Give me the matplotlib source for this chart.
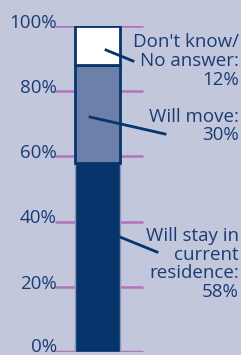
import matplotlib.pyplot as plt

# survey shares, stacked bottom to top
categories = ["Will stay in\ncurrent\nresidence:", "Will move:", "Don't know/\nNo answer:"]
values = [58, 30, 12]
yticks = [0, 20, 40, 60, 80, 100]
tick_labels = ["0%", "20%", "40%", "60%", "80%", "100%"]

bg = "#c2c7dc"
navy = "#06346b"
txt = "#1b3c73"
purple = "#b373bd"
fills = [navy, "#6d80aa", "#ffffff"]
edges = ["#8a98ba", navy, navy]
widths = [1, 2, 2]

plt.rcParams['font.family'] = ['Open Sans', 'DejaVu Sans']

fig = plt.figure(figsize=(2.41, 3.55), dpi=100, facecolor=bg)
ax = fig.add_axes([0, 3/355, 1, 326/355])
ax.set_facecolor(bg)
ax.set_xlim(0, 241)
ax.set_ylim(0, 100)
ax.axis("off")

# purple tick lines either side of bar
for t in yticks:
    lw = 2.5 if t == 0 else 1.8
    ax.plot([55, 143], [t, t], color=purple, lw=lw, zorder=1, solid_capstyle="butt")

bx = 97.5
bw = 45
bottom = 0
for v, fc, ec, w in zip(values, fills, edges, widths):
    ax.bar(bx, v, bw, bottom=bottom, color=fc, edgecolor=ec, linewidth=w, zorder=3)
    bottom += v

for t, lab in zip(yticks, tick_labels):
    off = 1.6 if t == 0 else 1.0
    ax.text(57, t + off, lab, ha="right", va="center", fontsize=13.5, color=txt)

def py(p):
    # pixel row from top -> data y
    return (352 - p) / 3.26

# labels + leader lines
ax.text(239, py(61), categories[2] + "\n" + f"{values[2]}%", ha="right", va="center",
        fontsize=13.5, color=txt, linespacing=1.05)
ax.plot([106, 133], [py(50), py(61)], color=navy, lw=2, zorder=4)

ax.text(239, py(126), categories[1] + "\n" + f"{values[1]}%", ha="right", va="center",
        fontsize=13.5, color=txt, linespacing=1.05)
ax.plot([90, 165], [py(117), py(134)], color=navy, lw=2, zorder=4)

ax.text(239, py(264), categories[0] + "\n" + f"{values[0]}%", ha="right", va="center",
        fontsize=13.5, color=txt, linespacing=1.05)
ax.plot([120, 157], [py(237), py(252)], color=navy, lw=2, zorder=4)

fig.savefig("out.png", dpi=100, facecolor=bg)
